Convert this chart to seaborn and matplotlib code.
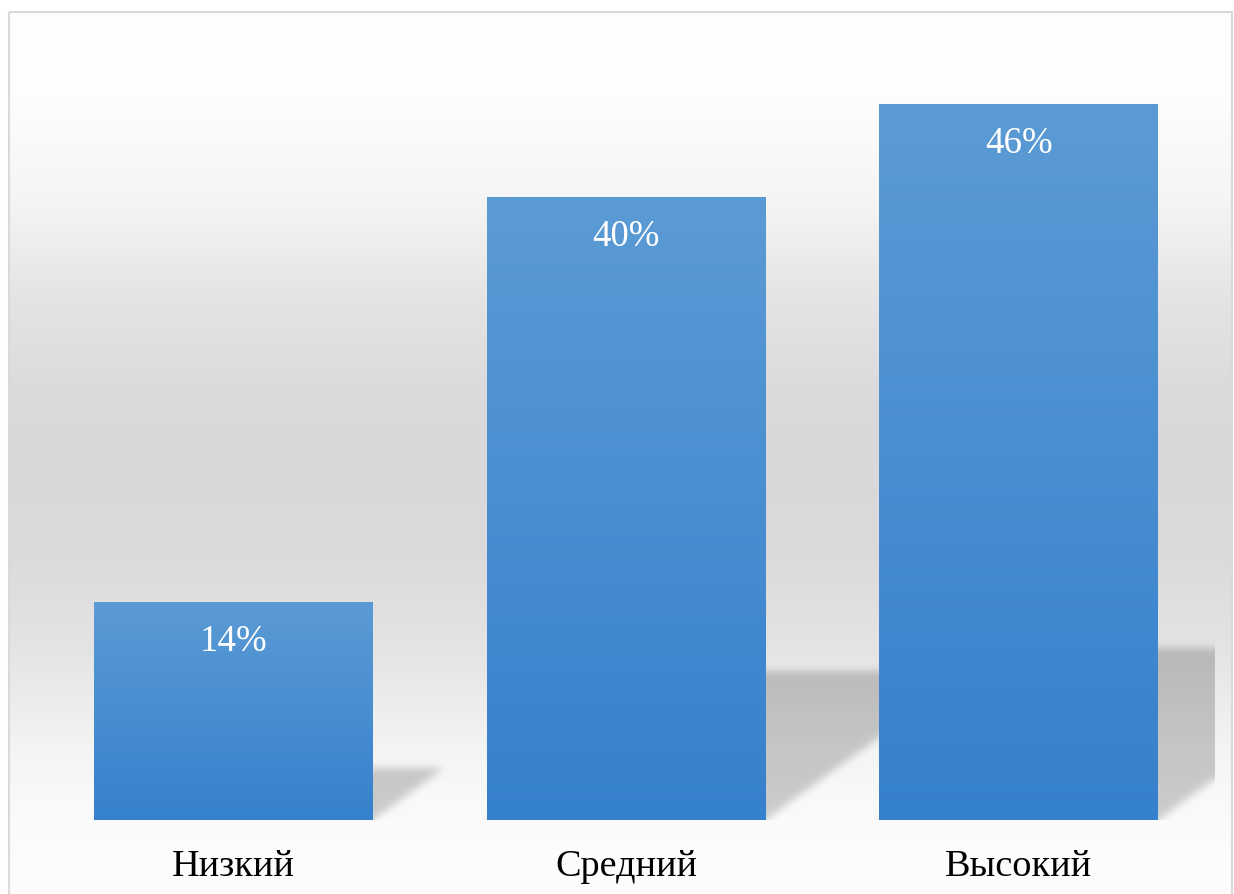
import numpy as np
import pandas as pd
import matplotlib
matplotlib.use('Agg')
import matplotlib.pyplot as plt
import seaborn as sns
from matplotlib.colors import to_rgb
from matplotlib.patches import Rectangle

categories = ['Низкий', 'Средний', 'Высокий']
values = [14, 40, 46]
value_labels = ['14%', '40%', '46%']

W_PX, H_PX, DPI = 1234, 895, 100
FONT = ['Liberation Serif', 'DejaVu Serif']

df = pd.DataFrame({'level': categories, 'share': values})

sns.set_theme(style='white')
plt.rcParams['font.family'] = FONT

fig = plt.figure(figsize=(W_PX / DPI, H_PX / DPI), dpi=DPI)
fig.patch.set_facecolor('white')

# background gradient of the chart area (whole figure, inside the border)
bg = fig.add_axes([0, 0, 1, 1], zorder=0)
bg.set_xlim(0, W_PX)
bg.set_ylim(H_PX, 0)
bg.axis('off')
stops_y = [13, 100, 200, 300, 400, 450, 550, 650, 700, 750, 800, 850, 895]
stops_v = [254, 253, 245, 228, 218, 216, 218, 228, 236, 244, 249, 252, 253]
yy = np.arange(13, H_PX + 1)
grey = np.interp(yy, stops_y, stops_v) / 255.0
bg_img = np.repeat(grey[:, None], 3, axis=1)[:, None, :]
bg.imshow(bg_img, extent=[9, 1232, H_PX + 1, 13], aspect='auto', interpolation='bilinear')
bg.add_patch(Rectangle((9, 13), 1223, 900, fill=False, edgecolor='#d9d9d9', lw=1.5))

# plot area
left, right, base, top = 37, 1215, 820.5, 42.5
ax = fig.add_axes([left / W_PX, (H_PX - base) / H_PX, (right - left) / W_PX, (base - top) / H_PX], zorder=1)
ax.patch.set_alpha(0)

sns.barplot(data=df, x='level', y='share', ax=ax, width=0.709, color='#5b9bd5',
            linewidth=0, zorder=2)
ax.set_xlim(-0.5, 2.5)
ax.set_ylim(0, 50)

# perspective shadows, blurred, rendered on the plot-area pixel grid
aw, ah = right - left, int(round(base - top))
xs = np.arange(aw) + 0.5
ys = np.arange(ah) + 0.5
X, Y = np.meshgrid(xs, ys)
mask = np.zeros((ah, aw))
for p in ax.patches:
    x0 = (p.get_x() + 0.5) / 3.0 * aw
    x1 = (p.get_x() + p.get_width() + 0.5) / 3.0 * aw
    hpx = p.get_height() / 50.0 * ah
    sh = 0.24 * hpx
    k = 0.33 / 0.24
    inside = (Y <= sh) & (X >= x0 + k * Y) & (X <= x1 + k * Y)
    mask = np.maximum(mask, inside.astype(float))

sigma = 4.0
kx = np.arange(-12, 13)
kern = np.exp(-kx ** 2 / (2 * sigma ** 2))
kern /= kern.sum()
pad = np.pad(mask, 12, mode='edge')
pad = np.apply_along_axis(lambda r: np.convolve(r, kern, mode='same'), 1, pad)
pad = np.apply_along_axis(lambda c: np.convolve(c, kern, mode='same'), 0, pad)
mask = pad[12:-12, 12:-12]

shadow = np.zeros((ah, aw, 4))
shadow[..., 3] = mask * 0.19
ax.imshow(shadow, extent=[-0.5, 2.5, 0, 50], origin='lower', aspect='auto', zorder=1.5,
          interpolation='bilinear')

# per-bar vertical gradient
c_top = np.array(to_rgb('#5b9bd5'))
c_bot = np.array(to_rgb('#3681cc'))
t = np.linspace(0, 1, 256)[:, None]
grad = (c_top * (1 - t) + c_bot * t)[:, None, :]
for p, lab in zip(ax.patches, value_labels):
    x, w, h = p.get_x(), p.get_width(), p.get_height()
    ax.imshow(grad, extent=[x, x + w, 0, h], origin='upper', aspect='auto', zorder=3,
              interpolation='bilinear')
    ax.annotate(lab, (x + w / 2, h), xytext=(0, -28), textcoords='offset points',
                ha='center', va='center', color='white', fontsize=26.5, zorder=4, family=FONT)

ax.set_xlim(-0.5, 2.5)
ax.set_ylim(0, 50)
ax.set_xlabel('')
ax.set_ylabel('')
ax.set_yticks([])
ax.tick_params(axis='x', length=0, pad=21, labelsize=27.5, colors='black')
for s in ax.spines.values():
    s.set_visible(False)

fig.savefig('out.png', dpi=DPI)
